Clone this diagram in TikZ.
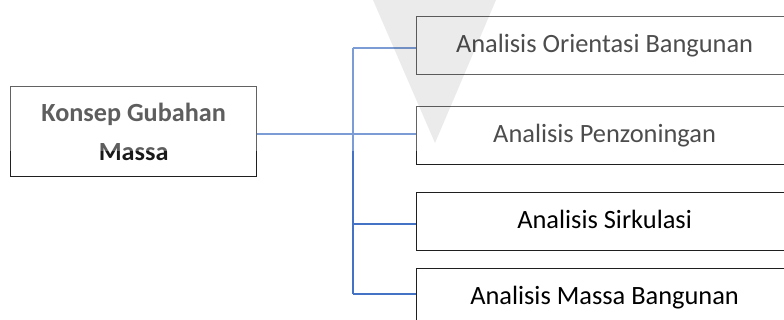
\documentclass[tikz,border=0pt]{standalone}
\usepackage{fontspec}
\setmainfont{Carlito}
\definecolor{linkblue}{HTML}{4472C4}
\begin{document}
\begin{tikzpicture}[x=1pt,y=-1pt,
  box/.style={draw=black!88, line width=1.2pt, fill=white, anchor=north west, inner sep=0pt,
    minimum width=376pt, minimum height=58pt, font=\fontsize{26.4}{32}\selectfont,
    text height=19pt, text depth=5pt},
  mainbox/.style={draw=black!88, line width=1.2pt, fill=white, anchor=north west, inner sep=0pt,
    minimum width=246pt, minimum height=90pt, align=center,
    font=\fontsize{26.2}{39}\selectfont\bfseries, text=black!90},
  link/.style={draw=linkblue, line width=1.5pt}]
\useasboundingbox (0,0) rectangle (784,320);
\fill[white] (0,0) rectangle (784,320);
% boxes
\node[mainbox] (konsep) at (10,86) {Konsep Gubahan\\Massa};
\node[box] (orient) at (416,16) {Analisis Orientasi Bangunan};
\node[box] (zona) at (416,106) {Analisis Penzoningan};
\node[box] (sirk) at (416,192) {Analisis Sirkulasi};
\node[box] (massa) at (416,268) {Analisis Massa Bangunan};
% connectors
\coordinate (jt) at (353,48);
\coordinate (jm) at (353,134);
\coordinate (j3) at (353,224);
\coordinate (jb) at (353,294);
\draw[link] (jt) -- (jb);
\draw[link] (konsep.east |- jm) -- (jm -| zona.west);
\draw[link] (jt) -- (jt -| orient.west);
\draw[link] (j3) -- (j3 -| sirk.west);
\draw[link] (jb) -- (jb -| massa.west);
% faded upper part and watermark
\fill[white, opacity=0.3] (0,0) rectangle (784,151);
\fill[black, opacity=0.08] (373,0) -- (496,0) -- (435,143) -- cycle;
\end{tikzpicture}
\end{document}
